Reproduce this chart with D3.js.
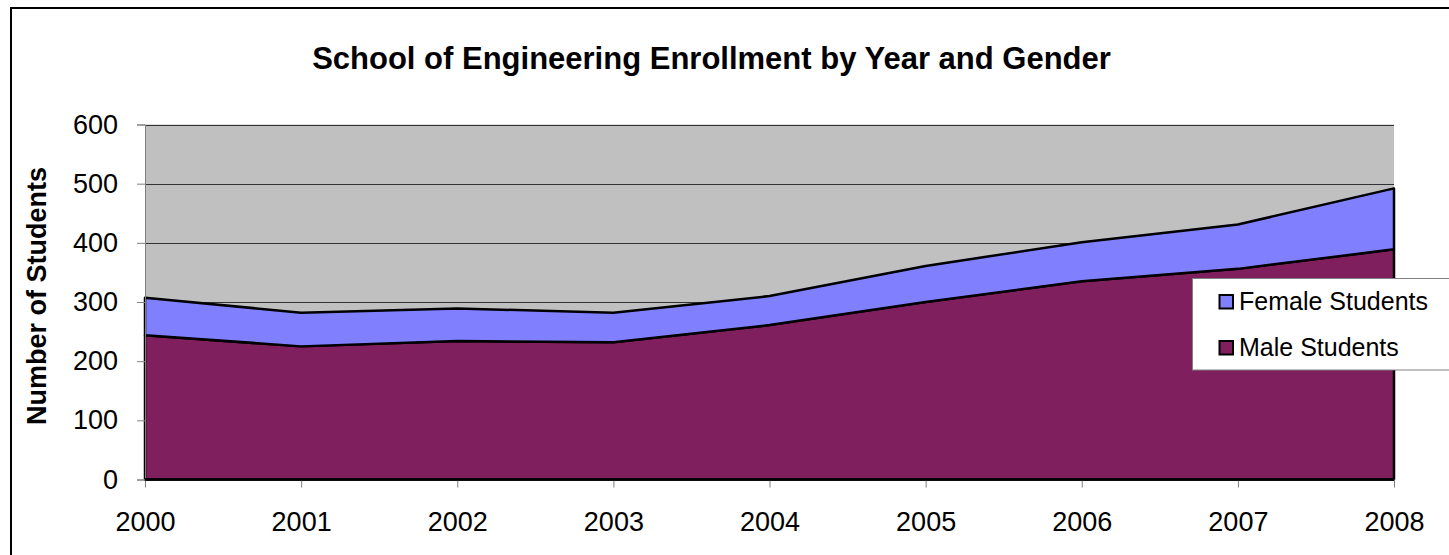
<!DOCTYPE html>
<html><head><meta charset="utf-8">
<script src="https://cdn.jsdelivr.net/npm/d3@7"></script>
<style>body{margin:0;background:#fff;}svg{display:block;font-family:Arial,"Liberation Sans",sans-serif;}</style>
</head><body>
<script>
const years = ["2000","2001","2002","2003","2004","2005","2006","2007","2008"];
const maleStudents = [244, 225, 234, 232, 261, 300, 335, 356, 389];
const femaleStudents = [63, 57, 55, 50, 49, 61, 66, 75, 103];
const yTicks = [0, 100, 200, 300, 400, 500, 600];
const seriesNames = ["Male Students", "Female Students"];
const colors = {"Male Students": "#7f1f5e", "Female Students": "#8080ff"};

const W = 1449, H = 555;
const svg = d3.select("body").append("svg").attr("width", W).attr("height", H);

// outer chart border
svg.append("rect").attr("x", 11).attr("y", 8).attr("width", W + 20).attr("height", H + 20)
  .attr("fill", "#fff").attr("stroke", "#000").attr("stroke-width", 2);

const L = 145, R = 1394, T = 124.5, B = 479.5;
const x = d3.scalePoint().domain(years).range([L, R]);
const y = d3.scaleLinear().domain([0, 600]).range([B, T]);

svg.append("rect").attr("x", L).attr("y", T).attr("width", R - L).attr("height", B - T).attr("fill", "#c0c0c0");

// gridlines
svg.append("g").selectAll("line").data(yTicks.filter(d => d > 0)).join("line")
  .attr("x1", L).attr("x2", R).attr("y1", d => Math.round(y(d)) + 0.5).attr("y2", d => Math.round(y(d)) + 0.5)
  .attr("stroke", "#333", 1).attr("stroke-width", 1);

const table = years.map((yr, i) => ({year: yr, "Male Students": maleStudents[i], "Female Students": femaleStudents[i]}));
const stacked = d3.stack().keys(seriesNames)(table);
const area = d3.area().x(d => x(d.data.year)).y0(d => y(d[0])).y1(d => y(d[1]));

svg.append("g").selectAll("path").data(stacked).join("path")
  .attr("d", area).attr("fill", d => colors[d.key])
  .attr("stroke", "#000").attr("stroke-width", 2.5).attr("stroke-linejoin", "round");

// axes
const yAxis = d3.axisLeft(y).tickValues(yTicks).tickSize(8).tickPadding(19);
const gy = svg.append("g").attr("transform", `translate(${L},0)`).call(yAxis);
gy.attr("font-size", 27).attr("font-family", "Arial, 'Liberation Sans', sans-serif");
gy.select(".domain").attr("stroke", "#808080");
gy.selectAll(".tick line").attr("stroke", "#808080");
gy.selectAll("text").attr("fill", "#000");

const xAxis = d3.axisBottom(x).tickSize(8).tickPadding(24);
const gx = svg.append("g").attr("transform", `translate(0,${B})`).call(xAxis);
gx.attr("font-size", 27).attr("font-family", "Arial, 'Liberation Sans', sans-serif");
gx.select(".domain").remove();
gx.selectAll(".tick line").attr("stroke", "#808080");
gx.selectAll("text").attr("fill", "#000");
// black axis baseline
svg.append("line").attr("x1", L).attr("x2", R).attr("y1", B).attr("y2", B).attr("stroke", "#000").attr("stroke-width", 2.5);

// title
svg.append("text").attr("x", 711.5).attr("y", 69).attr("text-anchor", "middle")
  .attr("font-size", 31).attr("font-weight", "bold").text("School of Engineering Enrollment by Year and Gender");

// y axis title
svg.append("text").attr("transform", "translate(46,296) rotate(-90)").attr("text-anchor", "middle")
  .attr("font-size", 27).attr("font-weight", "bold").text("Number of Students");

// legend
const lg = svg.append("g");
lg.append("rect").attr("x", 1192.5).attr("y", 278.5).attr("width", 270).attr("height", 91.5)
  .attr("fill", "#fff").attr("stroke", "#808080").attr("stroke-width", 1);
const legendItems = ["Female Students", "Male Students"];
legendItems.forEach((k, i) => {
  const top = 295 + i * 46;
  lg.append("rect").attr("x", 1219.5).attr("y", top).attr("width", 13.5).attr("height", 13.5)
    .attr("fill", colors[k]).attr("stroke", "#000").attr("stroke-width", 2);
  lg.append("text").attr("x", 1239).attr("y", 310 + i * 46).attr("font-size", 25).text(k);
});
</script>
</body></html>
